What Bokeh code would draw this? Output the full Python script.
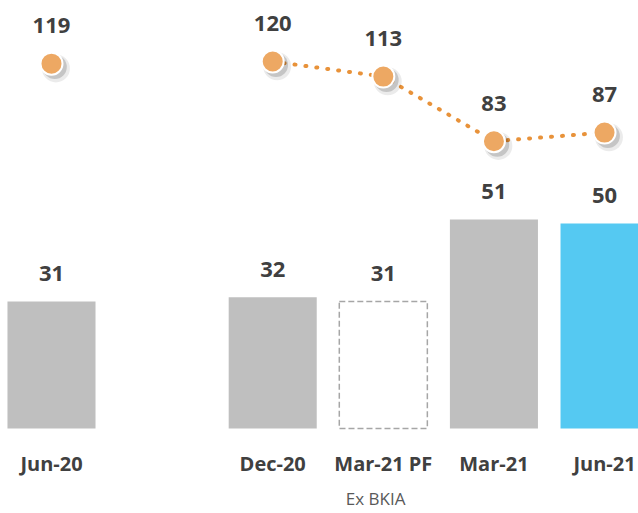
from bokeh.plotting import figure
from bokeh.models import Range1d, ColumnDataSource, LabelSet
from bokeh.core.properties import value
from bokeh.embed import file_html
from bokeh.resources import INLINE

# ---- data ----
categories = ["Jun-20", "", "Dec-20", "Mar-21 PF", "Mar-21", "Jun-21"]
bar_values = [31, None, 32, 31, 51, 50]
ratio_values = [119, None, 120, 113, 83, 87]
note_category = "Mar-21 PF"
note_text = "Ex BKIA"

GRAY = "#BFBFBF"
BLUE = "#55C9F2"
ORANGE = "#EDA863"
LINE_ORANGE = "#E8923A"
TXT = "#404040"
FONT = value("Open Sans")

W, H = 638, 513
p = figure(width=W, height=H, output_backend="svg", toolbar_location=None,
           x_range=Range1d(-0.461, 5.307), y_range=Range1d(-20.73, 104.39),
           min_border=0, outline_line_color=None)
p.extra_y_ranges = {"ratio": Range1d(-89.84, 148.32)}
p.xaxis.visible = False
p.yaxis.visible = False
p.xgrid.visible = False
p.ygrid.visible = False
p.background_fill_color = "white"
p.border_fill_color = "white"

idx = list(range(len(categories)))
solid = [i for i in idx if bar_values[i] is not None and categories[i] != note_category]
solid_colors = [BLUE if categories[i] == categories[-1] else GRAY for i in solid]
p.vbar(x=solid, top=[bar_values[i] for i in solid], bottom=0, width=0.796,
       fill_color=solid_colors, line_color=None)

pf = [categories.index(note_category)]
p.vbar(x=pf, top=[bar_values[i] for i in pf], bottom=0, width=0.796,
       fill_color=None, line_color="#A6A6A6", line_width=1.5, line_dash="6 3")

# bar value labels
bl = [i for i in idx if bar_values[i] is not None]
bsrc = ColumnDataSource(dict(x=bl, y=[bar_values[i] for i in bl],
                             t=[str(bar_values[i]) for i in bl]))
p.add_layout(LabelSet(x="x", y="y", text="t", source=bsrc, y_offset=28,
                      text_align="center", text_baseline="middle",
                      text_font=FONT, text_font_style="bold",
                      text_font_size="22px", text_color=TXT))

# ratio line (connected from Dec-20 on)
start = categories.index("Dec-20")
lx = [i for i in idx[start:] if ratio_values[i] is not None]
ly = [ratio_values[i] for i in lx]
p.line(lx, ly, y_range_name="ratio", line_color=LINE_ORANGE, line_width=4,
       line_dash="1 10", line_cap="round")

rx = [i for i in idx if ratio_values[i] is not None]
ry = [ratio_values[i] for i in rx]
# soft shadow
p.scatter([x + 0.04 for x in rx], [y - 2.2 for y in ry], y_range_name="ratio",
          size=28, fill_color="black", fill_alpha=0.08, line_color=None)
p.scatter([x + 0.03 for x in rx], [y - 1.6 for y in ry], y_range_name="ratio",
          size=24, fill_color="black", fill_alpha=0.16, line_color=None)
p.scatter(rx, ry, y_range_name="ratio", size=22, fill_color=ORANGE,
          line_color="white", line_width=2)

rsrc = ColumnDataSource(dict(x=rx, y=ry, t=[str(v) for v in ry]))
p.add_layout(LabelSet(x="x", y="y", text="t", source=rsrc, y_range_name="ratio",
                      y_offset=38, text_align="center", text_baseline="middle",
                      text_font=FONT, text_font_style="bold",
                      text_font_size="22px", text_color=TXT))

# category labels
cx = [i for i in idx if categories[i]]
csrc = ColumnDataSource(dict(x=cx, y=[50] * len(cx), t=[categories[i] for i in cx]))
p.add_layout(LabelSet(x="x", y="y", y_units="screen", text="t", source=csrc,
                      text_align="center", text_baseline="middle",
                      text_font=FONT, text_font_style="bold",
                      text_font_size="20px", text_color=TXT))

nsrc = ColumnDataSource(dict(x=[categories.index(note_category) - 0.07], y=[15], t=[note_text]))
p.add_layout(LabelSet(x="x", y="y", y_units="screen", text="t", source=nsrc,
                      text_align="center", text_baseline="middle",
                      text_font=FONT, text_font_size="17px", text_color="#595959"))

open("out.html", "w").write(file_html(p, INLINE))
